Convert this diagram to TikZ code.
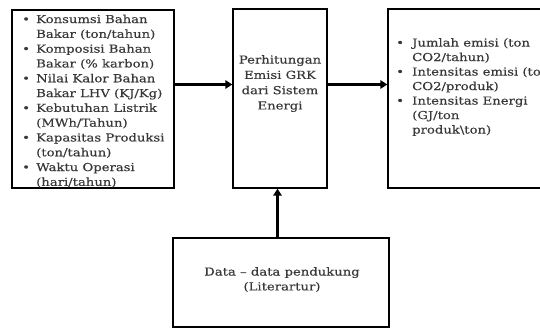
\documentclass[tikz,border=0pt]{standalone}
\usepackage{fontspec}
\setmainfont[FakeStretch=1.2,FakeBold=0.3]{DejaVu Serif}
\usetikzlibrary{arrows.meta}
\begin{document}
\begin{tikzpicture}[x=1pt,y=-1pt,
  box/.style={draw=black, line width=1.4pt, inner sep=0pt},
  txt/.style={font=\fontsize{11}{14.8}\selectfont, text=black!78, inner sep=0pt},
  flow/.style={line width=3pt, -{Triangle[length=7pt,width=8.5pt]}}]
\useasboundingbox (0,0) rectangle (540,328);
\fill[white] (0,0) rectangle (540,328);

% boxes
\node[box, minimum width=162pt, minimum height=178pt] (inp) at (93,99) {};
\node[box, minimum width=94pt, minimum height=179pt] (calc) at (280,98.5) {};
\node[box, minimum width=180pt, minimum height=179pt] (out) at (478,98.5) {};
\node[box, minimum width=216pt, minimum height=89pt] (sup) at (281,282.5) {};

% texts
\node[txt, align=left, anchor=north west] (inptxt) at (22,14.5) {%
\makebox[14pt][l]{•}Konsumsi Bahan\\
\hspace*{14pt}Bakar (ton/tahun)\\
\makebox[14pt][l]{•}Komposisi Bahan\\
\hspace*{14pt}Bakar (\% karbon)\\
\makebox[14pt][l]{•}Nilai Kalor Bahan\\
\hspace*{14pt}Bakar LHV (KJ/Kg)\\
\makebox[14pt][l]{•}Kebutuhan Listrik\\
\hspace*{14pt}(MWh/Tahun)\\
\makebox[14pt][l]{•}Kapasitas Produksi\\
\hspace*{14pt}(ton/tahun)\\
\makebox[14pt][l]{•}Waktu Operasi\\
\hspace*{14pt}(hari/tahun)};

\node[txt, align=center, anchor=north, font=\fontsize{11}{15.3}\selectfont] (calctxt) at (280,55) {%
Perhitungan\\Emisi GRK\\dari Sistem\\Energi};

\node[txt, align=left, anchor=north west, font=\fontsize{11}{14.5}\selectfont] (outtxt) at (396,38) {%
\makebox[16pt][l]{•}Jumlah emisi (ton\\
\hspace*{16pt}CO2/tahun)\\
\makebox[16pt][l]{•}Intensitas emisi (ton\\
\hspace*{16pt}CO2/produk)\\
\makebox[16pt][l]{•}Intensitas Energi\\
\hspace*{16pt}(GJ/ton\\
\hspace*{16pt}produk\textbackslash ton)};

\node[txt, align=center, anchor=north] (suptxt) at (282,267) {%
Data – data pendukung\\(Literartur)};

% connectors
\coordinate (rowy) at (0,84.5);
\coordinate (colx) at (277.5,0);
\draw[flow] (inp.east |- rowy) -- (calc.west |- rowy);
\draw[flow] (calc.east |- rowy) -- (out.west |- rowy);
\draw[flow] (sup.north -| colx) -- (calc.south -| colx);
\end{tikzpicture}
\end{document}
